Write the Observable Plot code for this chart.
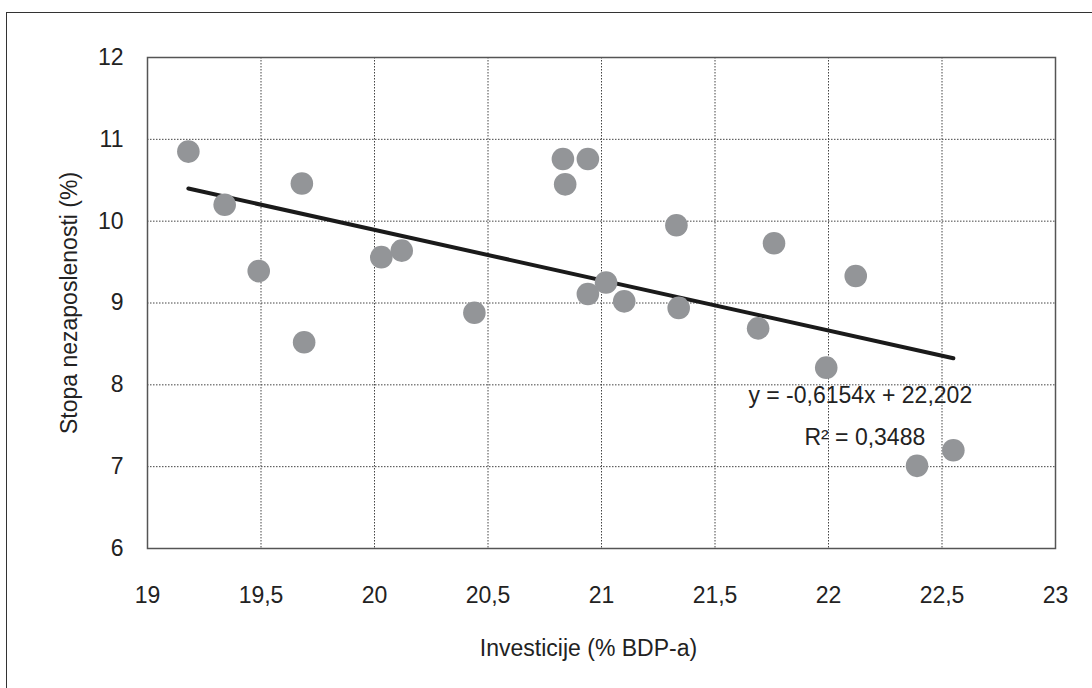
<!DOCTYPE html>
<html>
<head>
<meta charset="utf-8">
<script src="https://cdn.jsdelivr.net/npm/d3@7"></script>
<script src="https://cdn.jsdelivr.net/npm/@observablehq/plot@0.6"></script>
<style>
  html, body { margin: 0; padding: 0; background: #fff; overflow: hidden; }
  #wrap { position: relative; width: 1092px; height: 688px; }
  #outer { position: absolute; left: 6px; top: 12px; width: 1200px; height: 800px; border: 1px solid #333; box-sizing: border-box; }
  #chart { position: absolute; left: 0; top: 0; }
</style>
</head>
<body>
<div id="wrap"><div id="outer"></div><div id="chart"></div></div>
<script>
// Investment (% of GDP) and unemployment rate (%)
const investicije = [19.18, 19.34, 19.49, 19.68, 19.69, 20.03, 20.12, 20.44, 20.83, 20.94, 20.84,
                     20.94, 21.02, 21.10, 21.33, 21.34, 21.69, 21.76, 21.99, 22.12, 22.39, 22.55];
const nezaposlenost = [10.85, 10.20, 9.39, 10.46, 8.52, 9.56, 9.64, 8.88, 10.76, 10.76, 10.45,
                       9.11, 9.25, 9.02, 9.95, 8.94, 8.69, 9.73, 8.21, 9.33, 7.01, 7.20];
const xTicks = [19, 19.5, 20, 20.5, 21, 21.5, 22, 22.5, 23];
const yTicks = [6, 7, 8, 9, 10, 11, 12];
const trendSlope = -0.6154;
const trendIntercept = 22.202;
const eqLabels = ["y = -0,6154x + 22,202", "R² = 0,3488"];
const xTitle = "Investicije (% BDP-a)";
const yTitle = "Stopa nezaposlenosti (%)";

const points = investicije.map((x, i) => ({x, y: nezaposlenost[i]}));
const xExt = d3.extent(investicije);
const trend = xExt.map(x => ({x, y: trendSlope * x + trendIntercept}));
const fmt = d => String(d).replace(".", ",");
const FS = 23;

const chart = Plot.plot({
  width: 1092,
  height: 688,
  marginLeft: 147,
  marginTop: 57,
  marginRight: 37,
  marginBottom: 140,
  style: {fontFamily: "'Liberation Sans', Arial, sans-serif", fontSize: FS + "px", color: "#222", background: "transparent"},
  x: {domain: [19, 23]},
  y: {domain: [6, 12]},
  marks: [
    Plot.gridX(xTicks, {stroke: "#444", strokeOpacity: 1, strokeWidth: 1, strokeDasharray: "1.5,1.5"}),
    Plot.gridY(yTicks, {stroke: "#444", strokeOpacity: 1, strokeWidth: 1, strokeDasharray: "1.5,1.5"}),
    Plot.frame({stroke: "#555", strokeWidth: 1.5}),
    Plot.axisX(xTicks, {tickSize: 0, tickPadding: 38, tickFormat: fmt, label: null, fontSize: FS}),
    Plot.axisY(yTicks, {tickSize: 0, tickPadding: 24, tickFormat: fmt, label: null, fontSize: FS}),
    Plot.line(trend, {x: "x", y: "y", stroke: "#1a1a1a", strokeWidth: 4, strokeLinecap: "round"}),
    Plot.dot(points, {x: "x", y: "y", r: 11.3, fill: "#939598", stroke: "none"}),
    Plot.text([eqLabels[0]], {x: 22.14, y: 7.87, text: d => d, fontSize: FS, fill: "#222", lineAnchor: "middle"}),
    Plot.text([eqLabels[1]], {x: 22.16, y: 7.36, text: d => d, fontSize: FS, fill: "#222", lineAnchor: "middle"}),
    Plot.text([xTitle], {frameAnchor: "bottom", dy: 100, dx: -13, text: d => d, fontSize: FS, fill: "#222", lineAnchor: "middle", textAnchor: "middle"}),
    Plot.text([yTitle], {frameAnchor: "left", dx: -78, rotate: -90, text: d => d, fontSize: FS, fill: "#222", lineAnchor: "middle", textAnchor: "middle"})
  ]
});
document.getElementById("chart").appendChild(chart);
</script>
</body>
</html>
